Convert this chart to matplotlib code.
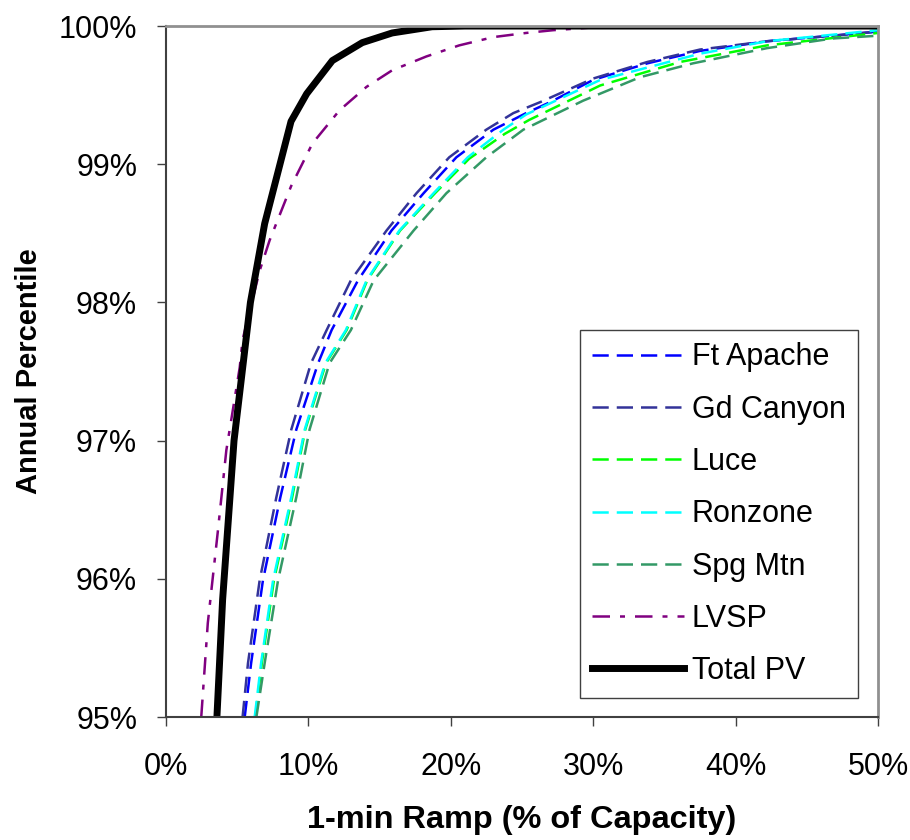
import matplotlib
matplotlib.use("Agg")
from matplotlib import pyplot as plt
from matplotlib.ticker import FuncFormatter

plt.rcParams['font.family'] = ['Liberation Sans', 'DejaVu Sans']

# данные: x - рамп (доля мощности), y - процентиль (%)
ft_apache_x = [0.0555, 0.060, 0.0683, 0.0805, 0.0917, 0.107, 0.1165, 0.135, 0.1585, 0.181, 0.204, 0.230, 0.253, 0.270, 0.300, 0.338, 0.375, 0.422, 0.468, 0.500]
ft_apache_y = [95.0, 95.39, 95.99, 96.59, 97.08, 97.56, 97.80, 98.16, 98.52, 98.79, 99.05, 99.25, 99.37, 99.45, 99.61, 99.73, 99.82, 99.89, 99.93, 99.96]

gd_canyon_x = [0.054, 0.0578, 0.066, 0.0777, 0.0882, 0.102, 0.113, 0.130, 0.155, 0.176, 0.199, 0.225, 0.244, 0.263, 0.300, 0.338, 0.375, 0.422, 0.468, 0.500]
gd_canyon_y = [95.0, 95.39, 95.99, 96.59, 97.08, 97.56, 97.80, 98.16, 98.52, 98.79, 99.05, 99.25, 99.37, 99.45, 99.62, 99.74, 99.83, 99.89, 99.93, 99.96]

luce_x = [0.063, 0.0675, 0.076, 0.0888, 0.098, 0.1125, 0.127, 0.1415, 0.1645, 0.189, 0.213, 0.238, 0.255, 0.305, 0.361, 0.422, 0.500]
luce_y = [95.0, 95.39, 95.99, 96.59, 97.08, 97.56, 97.80, 98.16, 98.52, 98.79, 99.04, 99.22, 99.32, 99.57, 99.74, 99.86, 99.95]

ronzone_x = [0.0625, 0.067, 0.0754, 0.0882, 0.0976, 0.112, 0.1265, 0.141, 0.164, 0.188, 0.212, 0.237, 0.253, 0.305, 0.375, 0.422, 0.500]
ronzone_y = [95.0, 95.39, 95.99, 96.59, 97.08, 97.56, 97.80, 98.16, 98.52, 98.79, 99.05, 99.25, 99.36, 99.61, 99.80, 99.89, 99.97]

spg_mtn_x = [0.0637, 0.0695, 0.0789, 0.0917, 0.101, 0.115, 0.130, 0.146, 0.174, 0.197, 0.225, 0.251, 0.293, 0.333, 0.370, 0.422, 0.468, 0.500]
spg_mtn_y = [95.0, 95.39, 95.99, 96.59, 97.08, 97.56, 97.80, 98.16, 98.52, 98.79, 99.05, 99.25, 99.46, 99.63, 99.73, 99.84, 99.91, 99.93]

lvsp_x = [0.025, 0.0296, 0.0365, 0.0426, 0.052, 0.054, 0.066, 0.073, 0.088, 0.103, 0.122, 0.141, 0.159, 0.183, 0.206, 0.230, 0.253, 0.272, 0.300, 0.500]
lvsp_y = [95.0, 95.68, 96.33, 96.93, 97.53, 97.73, 98.23, 98.45, 98.84, 99.15, 99.39, 99.56, 99.68, 99.78, 99.86, 99.92, 99.95, 99.97, 99.99, 100.0]

total_x = [0.036, 0.040, 0.048, 0.0595, 0.0695, 0.088, 0.099, 0.117, 0.138, 0.159, 0.187, 0.210, 0.500]
total_y = [95.0, 95.85, 97.0, 98.0, 98.57, 99.31, 99.51, 99.75, 99.88, 99.95, 99.995, 100.0, 100.0]

fig = plt.figure(figsize=(9.1, 8.4), dpi=100)
ax = fig.add_axes([0.182, 0.1464, 0.783, 0.8226])

lw = 1.8
dash = (6.5, 3.2)
ax.plot(ft_apache_x, ft_apache_y, color='#0000FF', lw=lw, dashes=dash, label='Ft Apache')
ax.plot(gd_canyon_x, gd_canyon_y, color='#333399', lw=lw, dashes=dash, label='Gd Canyon')
ax.plot(luce_x, luce_y, color='#00FF00', lw=lw, dashes=dash, label='Luce')
ax.plot(ronzone_x, ronzone_y, color='#00FFFF', lw=lw, dashes=dash, label='Ronzone')
ax.plot(spg_mtn_x, spg_mtn_y, color='#339966', lw=lw, dashes=dash, label='Spg Mtn')
ax.plot(lvsp_x, lvsp_y, color='#800080', lw=lw, dashes=(7, 4, 2, 4), label='LVSP')
ax.plot(total_x, total_y, color='black', lw=5, label='Total PV')

ax.set_xlim(0, 0.5)
ax.set_ylim(95, 100)
ax.set_xticks([0, 0.1, 0.2, 0.3, 0.4, 0.5])
ax.set_yticks([95, 96, 97, 98, 99, 100])
ax.xaxis.set_major_formatter(FuncFormatter(lambda v, p: '%d%%' % round(v * 100)))
ax.yaxis.set_major_formatter(FuncFormatter(lambda v, p: '%d%%' % round(v)))
ax.tick_params(labelsize=22, direction='out', length=6.5, width=1.0, color='#404040')
ax.tick_params(axis='x', pad=19)
ax.tick_params(axis='y', pad=14)

for s in ['left', 'bottom']:
    ax.spines[s].set_color('#404040')
    ax.spines[s].set_linewidth(1.5)
for s in ['top', 'right']:
    ax.spines[s].set_color('#909090')
    ax.spines[s].set_linewidth(2)

ax.set_xlabel('1-min Ramp (% of Capacity)', fontsize=23.4, fontweight='bold', labelpad=16)
ax.set_ylabel('Annual Percentile', fontsize=21, fontweight='bold', labelpad=11)

leg = ax.legend(loc='upper left', bbox_to_anchor=(0.5815, 0.560), fontsize=22, handlelength=3.0,
                labelspacing=0.73, fancybox=False, edgecolor='#404040', framealpha=1,
                borderpad=0.4, handletextpad=0.26, borderaxespad=0)
leg.get_frame().set_linewidth(1.0)

fig.savefig('out.png', dpi=100)
